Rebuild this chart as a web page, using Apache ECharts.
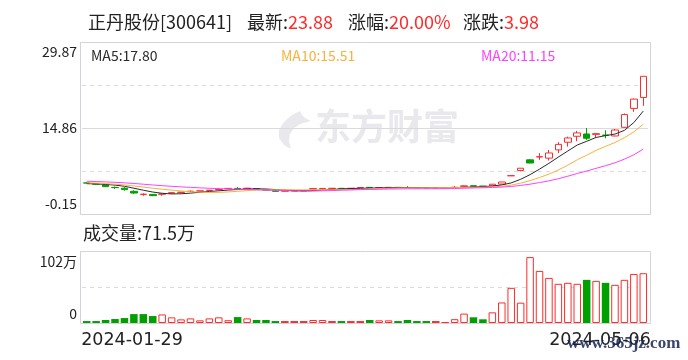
<!DOCTYPE html>
<html><head><meta charset="utf-8">
<script src="https://cdn.jsdelivr.net/npm/echarts@6/dist/echarts.min.js"></script>
<style>html,body{margin:0;padding:0;background:#fff;}#c{width:688px;height:360px;}</style>
</head><body><div id="c"></div>
<script>
// ---- data ----
const dates = ['2024-01-29','2024-01-30','2024-01-31','2024-02-01','2024-02-02','2024-02-05','2024-02-06','2024-02-07','2024-02-08','2024-02-19','2024-02-20','2024-02-21','2024-02-22','2024-02-23','2024-02-26','2024-02-27','2024-02-28','2024-02-29','2024-03-01','2024-03-04','2024-03-05','2024-03-06','2024-03-07','2024-03-08','2024-03-11','2024-03-12','2024-03-13','2024-03-14','2024-03-15','2024-03-18','2024-03-19','2024-03-20','2024-03-21','2024-03-22','2024-03-25','2024-03-26','2024-03-27','2024-03-28','2024-03-29','2024-04-01','2024-04-02','2024-04-03','2024-04-08','2024-04-09','2024-04-10','2024-04-11','2024-04-12','2024-04-15','2024-04-16','2024-04-17','2024-04-18','2024-04-19','2024-04-22','2024-04-23','2024-04-24','2024-04-25','2024-04-26','2024-04-29','2024-04-30','2024-05-06'];
const opens = [5.28,5.15,4.92,4.48,4.35,3.81,3.27,3.27,3.30,3.50,
  3.62,3.80,3.86,3.97,4.10,4.29,4.32,4.25,4.30,4.12,
  3.95,3.85,3.88,3.90,4.22,4.28,4.32,4.33,4.32,4.45,
  4.50,4.45,4.47,4.50,4.48,4.46,4.44,4.43,4.45,4.45,
  4.70,4.78,4.72,4.75,5.08,6.53,7.45,9.30,9.80,9.60,
  11.04,12.38,13.42,13.82,13.75,13.62,13.47,14.98,18.28,20.19];
const closes = [5.25,5.05,4.62,4.45,4.11,3.51,3.30,3.05,3.35,3.56,
  3.66,3.82,3.88,4.00,4.13,4.32,4.28,4.35,4.15,3.98,
  3.80,3.85,3.88,3.90,4.28,4.31,4.32,4.30,4.32,4.45,
  4.46,4.48,4.50,4.47,4.45,4.43,4.41,4.43,4.45,4.52,
  4.75,4.70,4.68,5.05,5.44,6.53,7.84,8.75,9.85,10.50,
  12.00,13.12,14.00,13.07,13.87,13.58,14.51,17.20,19.90,23.88];
const lows = [5.22,5.00,4.55,4.23,3.93,3.33,3.03,2.97,3.03,3.45,
  3.58,3.75,3.84,3.93,4.05,4.25,4.24,4.20,4.10,3.95,
  3.76,3.80,3.84,3.86,4.18,4.25,4.28,4.27,4.28,4.40,
  4.44,4.42,4.45,4.44,4.42,4.40,4.38,4.40,4.42,4.42,
  4.65,4.68,4.64,4.72,5.05,6.53,7.28,8.70,9.30,9.19,
  10.47,11.62,12.55,12.78,13.18,13.07,13.40,14.90,17.69,18.73];
const highs = [5.43,5.20,4.95,4.65,4.53,3.99,3.45,3.33,3.37,3.60,
  3.68,3.93,3.90,4.02,4.35,4.34,4.53,4.40,4.32,4.15,
  3.97,3.90,3.92,3.94,4.32,4.34,4.36,4.36,4.36,4.50,
  4.52,4.52,4.53,4.52,4.70,4.48,4.46,4.46,4.48,4.70,
  4.80,4.80,4.75,5.08,5.44,6.53,7.84,9.41,10.47,11.04,
  12.38,13.35,14.34,14.86,13.95,14.46,14.69,17.40,20.00,23.88];
// closes of the 19 sessions before the first shown day (estimated so the MA lines start where drawn)
const priorCloses = [5.95,5.92,5.90,5.85,5.88,5.80,5.82,5.75,5.70,5.68,5.60,5.55,5.45,5.40,5.32,5.20,5.10,5.05,5.10];
// volume in 万 (10k shares)
const volumes = [2.8,2.8,4.3,5.7,7.1,12.8,12.8,10.0,12.3,8.1,
  5.2,6.6,3.8,6.6,8.1,4.0,8.5,6.6,4.3,4.3,
  2.8,2.8,2.8,2.8,4.3,4.3,2.8,2.8,2.8,2.8,
  4.3,3.8,3.8,2.8,4.3,2.8,2.8,2.8,1.4,5.5,
  13.5,8.2,5.3,15.3,29.5,50.5,29.2,94.7,74.8,64.8,
  56.3,57.7,56.3,62.0,60.5,57.7,54.8,62.0,70.5,71.5];
// u = up (hollow red), d = down (green), f = flat (filled red)
const volKinds = ['d','d','d','d','d','d','d','d','u','u',
  'u','u','u','u','u','u','d','u','d','d',
  'd','f','f','f','u','u','f','d','f','f',
  'd','u','u','d','d','d','d','f','f','u',
  'u','d','d','u','u','u','u','u','u','u',
  'u','u','u','d','u','d','u','u','u','u'];
const priceTicks = [-0.15, 7.355, 14.86, 22.365, 29.87];
const priceLabelTicks = [-0.15, 14.86, 29.87];
const volTicks = [0, 51, 102];
const volLabelTicks = [0, 102];
const stockName = '正丹股份[300641]';
const headerLabels = ['最新:', '涨幅:', '涨跌:'];
const headerValues = ['23.88', '20.00%', '3.98'];
const maLegend = ['MA5:17.80', 'MA10:15.51', 'MA20:11.15'];
const volLegend = '成交量:71.5万';

// ---- helpers ----
function movingAvg(n) {
  const all = priorCloses.concat(closes);
  const off = priorCloses.length;
  return closes.map((c, i) => {
    let s = 0;
    for (let k = 0; k < n; k++) s += all[off + i - k];
    return +(s / n).toFixed(3);
  });
}
const RED = '#ff2b2b', GREEN = '#00a000', TXT = '#222';
const CJK = "'Noto Sans CJK SC', 'Microsoft YaHei', sans-serif";
const LINE = '#dadada';

const candleData = dates.map((d, i) => [opens[i], closes[i], lows[i], highs[i]]);
const volData = volumes.map((v, i) => {
  const k = volKinds[i];
  return {
    value: v,
    itemStyle: k === 'u' ? {color: '#fff', borderColor: RED, borderWidth: 1}
             : k === 'd' ? {color: GREEN, borderColor: GREEN, borderWidth: 0}
             : {color: RED, borderColor: RED, borderWidth: 0}
  };
});
const priceLines = priceTicks.slice(1, -1).map((v) => ({
  yAxis: v, lineStyle: {type: v === priceTicks[2] ? 'solid' : [4, 4]}
}));
const volLines = volTicks.slice(1, -1).map(v => ({yAxis: v}));

const headLefts = [247, 348, 463];
const titles = [
  {text: stockName, left: 88, top: 12, padding: 0,
   textStyle: {fontSize: 18, fontWeight: 'normal', color: TXT, fontFamily: CJK, lineHeight: 20}}
].concat(headerLabels.map((l, i) => ({
  text: '{k|' + l + '}{v|' + headerValues[i] + '}', left: headLefts[i], top: 12, padding: 0,
  textStyle: {fontSize: 18, fontWeight: 'normal', fontFamily: CJK, lineHeight: 20,
    rich: {k: {fontSize: 18, fontWeight: 'normal', color: TXT, fontFamily: CJK, lineHeight: 20},
           v: {fontSize: 18, fontWeight: 'normal', color: RED, fontFamily: CJK, lineHeight: 20}}}
}))).concat([
  {text: maLegend[0], left: 91, top: 47, padding: 0, textStyle: {fontSize: 14, fontWeight: 'normal', color: '#2a2a2a', fontFamily: CJK, lineHeight: 18}},
  {text: maLegend[1], left: 281, top: 47, padding: 0, textStyle: {fontSize: 14, fontWeight: 'normal', color: '#f7b23c', fontFamily: CJK, lineHeight: 18}},
  {text: maLegend[2], left: 481, top: 47, padding: 0, textStyle: {fontSize: 14, fontWeight: 'normal', color: '#ff40ff', fontFamily: CJK, lineHeight: 18}},
  {text: volLegend, left: 83, top: 223, padding: 0, textStyle: {fontSize: 18, fontWeight: 'normal', color: TXT, fontFamily: CJK, lineHeight: 20}}
]);

const chart = echarts.init(document.getElementById('c'));
chart.setOption({
  animation: false,
  backgroundColor: '#fff',
  title: titles,
  grid: [
    {left: 82, top: 42, width: 566, height: 172, outerBoundsMode: 'none'},
    {left: 82, top: 252, width: 566, height: 71, outerBoundsMode: 'none'},
    {left: 132, top: 322, width: 468, height: 1, outerBoundsMode: 'none'}
  ],
  xAxis: [
    {type: 'category', data: dates, gridIndex: 0, boundaryGap: true, show: false},
    {type: 'category', data: dates, gridIndex: 1, boundaryGap: true, show: false},
    {type: 'category', data: dates, gridIndex: 2, boundaryGap: false,
     axisLine: {show: false}, axisTick: {show: false}, splitLine: {show: false},
     axisLabel: {interval: (i) => i === 0 || i === dates.length - 1, margin: 8,
       fontSize: 17.5, fontFamily: "'DejaVu Sans', sans-serif", color: TXT}}
  ],
  yAxis: [
    {type: 'value', gridIndex: 0, min: priceTicks[0], max: priceTicks[priceTicks.length - 1],
     axisLine: {show: false}, axisTick: {show: false}, splitLine: {show: false},
     axisLabel: {customValues: priceLabelTicks, formatter: v => v.toFixed(2), margin: 5,
       fontSize: 14, fontFamily: CJK, color: TXT, lineHeight: 20,
       verticalAlignMinLabel: 'bottom', verticalAlignMaxLabel: 'top'}},
    {type: 'value', gridIndex: 1, min: volTicks[0], max: volTicks[volTicks.length - 1],
     axisLine: {show: false}, axisTick: {show: false}, splitLine: {show: false},
     axisLabel: {customValues: volLabelTicks, formatter: v => v === 0 ? '0' : v + '万', margin: 5,
       fontSize: 14, fontFamily: CJK, color: TXT, lineHeight: 19,
       verticalAlignMinLabel: 'bottom', verticalAlignMaxLabel: 'top'}},
    {type: 'value', gridIndex: 2, show: false}
  ],
  graphic: [
    {type: 'polygon', z: 0, silent: true,
     shape: {points: [[300,111],[292,115],[284,122],[279,130],[279,138],[284,145],[291,149],[289,141],[290,134],[294,128],[300,124],[311,121],[305,118],[302,115]]},
     style: {fill: '#e9e9ed'}},
    {type: 'text', z: 0, left: 315, top: 108, silent: true,
     style: {text: '东方财富', fontSize: 36, fontWeight: 'bold', fontFamily: CJK, fill: '#e9e9ed'}},
    {type: 'rect', z: 1, silent: true, shape: {x: 80.5, y: 42.5, width: 570, height: 172},
     style: {fill: 'transparent', stroke: '#d3d3d8', lineWidth: 1}},
    {type: 'rect', z: 1, silent: true, shape: {x: 80.5, y: 251.5, width: 570, height: 72},
     style: {fill: 'transparent', stroke: '#d3d3d8', lineWidth: 1}},
    {type: 'text', z: 100, left: 567, top: 335, silent: true,
     style: {text: 'www.365jz.com', fontSize: 17, fontWeight: 'bold', fontFamily: "'Liberation Serif', serif", fill: 'rgba(20,35,85,0.85)'}}
  ],
  series: [
    {type: 'candlestick', xAxisIndex: 0, yAxisIndex: 0, data: candleData, barWidth: 7,
     itemStyle: {color: '#fff', color0: GREEN, borderColor: RED, borderColor0: GREEN, borderColorDoji: RED, borderWidth: 1},
     markLine: {silent: true, symbol: ['none', 'none'], label: {show: false}, z: 1,
       lineStyle: {color: LINE, width: 1}, data: priceLines}},
    {type: 'line', name: 'MA5', xAxisIndex: 0, yAxisIndex: 0, data: movingAvg(5), showSymbol: false, z: 3,
     lineStyle: {color: '#2a2a2a', width: 1}},
    {type: 'line', name: 'MA10', xAxisIndex: 0, yAxisIndex: 0, data: movingAvg(10), showSymbol: false, z: 3,
     lineStyle: {color: '#f7b23c', width: 1}},
    {type: 'line', name: 'MA20', xAxisIndex: 0, yAxisIndex: 0, data: movingAvg(20), showSymbol: false, z: 3,
     lineStyle: {color: '#ff40ff', width: 1}},
    {type: 'bar', xAxisIndex: 1, yAxisIndex: 1, data: volData, barWidth: 7.5,
     markLine: {silent: true, symbol: ['none', 'none'], label: {show: false}, z: 1,
       lineStyle: {color: LINE, width: 1, type: [4, 4]}, data: volLines}}
  ]
});
</script>
</body></html>
